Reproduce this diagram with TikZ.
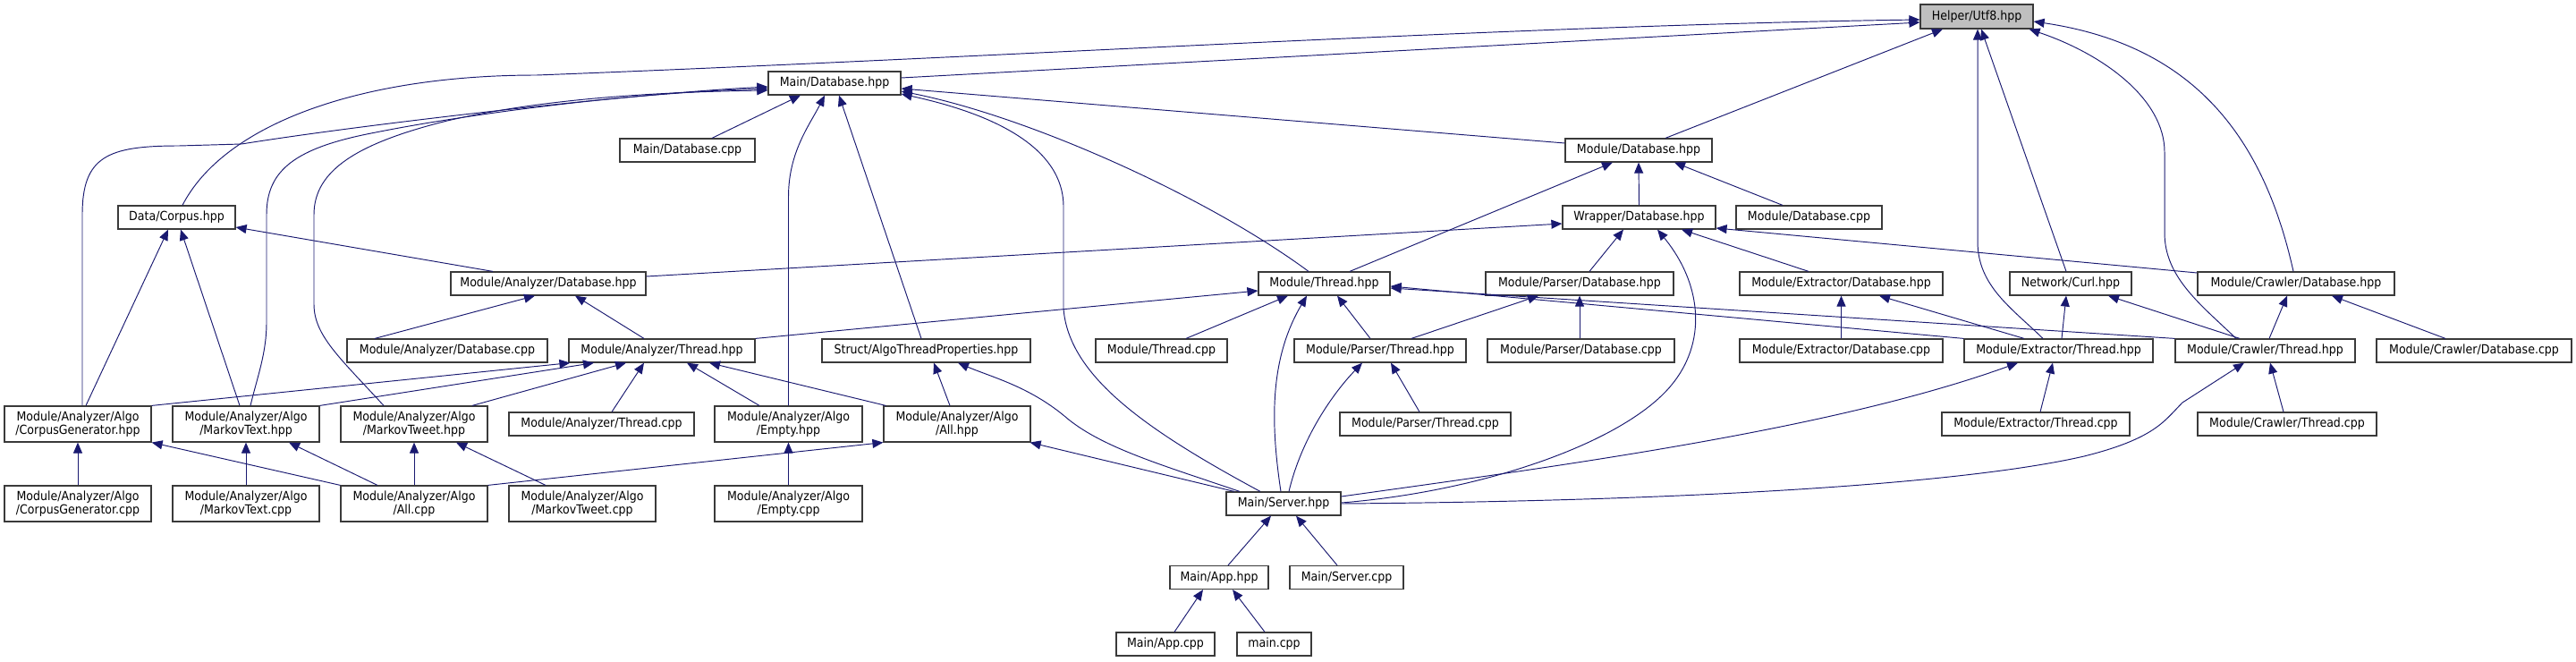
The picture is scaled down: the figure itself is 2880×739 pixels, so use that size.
\documentclass[tikz,border=0pt]{standalone}
\usepackage{fontspec}
\setmainfont{DejaVu Sans}[FakeStretch=0.9]
\usetikzlibrary{arrows.meta}
\definecolor{mblue}{HTML}{191970}
\definecolor{hgrey}{HTML}{BFBFBF}
\definecolor{bord}{HTML}{3A3A3A}
\tikzset{
  box/.style={draw=bord, line width=1.2pt, fill=white, inner sep=0pt, minimum height=26pt,
    font=\fontsize{14}{15}\selectfont, align=center},
  tall/.style={minimum height=40pt},
  dep/.style={draw=mblue, line width=0.95pt, -{Triangle[length=12pt,width=10pt]}, fill=none}
}
\begin{document}
\begin{tikzpicture}[x=1pt,y=-1pt]
\useasboundingbox (0,0) rectangle (2880,739);
% nodes
\node[box,fill=hgrey,minimum width=126pt,minimum height=27pt] (helper) at (2210,18.5) {Helper/Utf8.hpp};
\node[box,minimum width=148pt] (maindb) at (933,93) {Main/Database.hpp};
\node[box,minimum width=131pt] (corpus) at (197.5,243) {Data/Corpus.hpp};
\node[box,minimum width=151pt] (maindbcpp) at (768.5,168) {Main/Database.cpp};
\node[box,minimum width=164pt] (moddb) at (1832,168) {Module/Database.hpp};
\node[box,minimum width=171pt] (wrapdb) at (1832.5,243) {Wrapper/Database.hpp};
\node[box,minimum width=163pt] (moddbcpp) at (2022.5,243) {Module/Database.cpp};
\node[box,minimum width=218pt] (anadb) at (613,317) {Module/Analyzer/Database.hpp};
\node[box,minimum width=147pt] (modthr) at (1480.5,317) {Module/Thread.hpp};
\node[box,minimum width=210pt] (pardb) at (1766,317) {Module/Parser/Database.hpp};
\node[box,minimum width=227pt] (extdb) at (2058.5,317) {Module/Extractor/Database.hpp};
\node[box,minimum width=136pt] (curl) at (2315,317) {Network/Curl.hpp};
\node[box,minimum width=220pt] (crawdb) at (2567,317) {Module/Crawler/Database.hpp};
\node[box,minimum width=224pt] (anadbcpp) at (500,392) {Module/Analyzer/Database.cpp};
\node[box,minimum width=208pt] (anathr) at (740,392) {Module/Analyzer/Thread.hpp};
\node[box,minimum width=233pt] (struct) at (1035.5,392) {Struct/AlgoThreadProperties.hpp};
\node[box,minimum width=147pt] (modthrcpp) at (1298.5,392) {Module/Thread.cpp};
\node[box,minimum width=192pt] (parthr) at (1543,392) {Module/Parser/Thread.hpp};
\node[box,minimum width=209pt] (pardbcpp) at (1767.5,392) {Module/Parser/Database.cpp};
\node[box,minimum width=227pt] (extdbcpp) at (2058.5,392) {Module/Extractor/Database.cpp};
\node[box,minimum width=211pt] (extthr) at (2301.5,392) {Module/Extractor/Thread.hpp};
\node[box,minimum width=201pt] (crawthr) at (2532.5,392) {Module/Crawler/Thread.hpp};
\node[box,minimum width=218pt] (crawdbcpp) at (2766,392) {Module/Crawler/Database.cpp};
\node[box,minimum width=207pt] (anathrcpp) at (672.5,474) {Module/Analyzer/Thread.cpp};
\node[box,minimum width=191pt] (parthrcpp) at (1593.5,474) {Module/Parser/Thread.cpp};
\node[box,minimum width=210pt] (extthrcpp) at (2276,474) {Module/Extractor/Thread.cpp};
\node[box,minimum width=200pt] (crawthrcpp) at (2557,474) {Module/Crawler/Thread.cpp};
\node[box,tall,minimum width=164pt] (cghpp) at (87,474) {Module/Analyzer/Algo\\/CorpusGenerator.hpp};
\node[box,tall,minimum width=164pt] (mtxhpp) at (275,474) {Module/Analyzer/Algo\\/MarkovText.hpp};
\node[box,tall,minimum width=164pt] (mtwhpp) at (463,474) {Module/Analyzer/Algo\\/MarkovTweet.hpp};
\node[box,tall,minimum width=165pt] (emptyhpp) at (881.5,474) {Module/Analyzer/Algo\\/Empty.hpp};
\node[box,tall,minimum width=164pt] (allhpp) at (1070,474) {Module/Analyzer/Algo\\/All.hpp};
\node[box,tall,minimum width=164pt] (cgcpp) at (87,563) {Module/Analyzer/Algo\\/CorpusGenerator.cpp};
\node[box,tall,minimum width=164pt] (mtxcpp) at (275,563) {Module/Analyzer/Algo\\/MarkovText.cpp};
\node[box,tall,minimum width=164pt] (allcpp) at (463,563) {Module/Analyzer/Algo\\/All.cpp};
\node[box,tall,minimum width=164pt] (mtwcpp) at (651,563) {Module/Analyzer/Algo\\/MarkovTweet.cpp};
\node[box,tall,minimum width=165pt] (emptycpp) at (881.5,563) {Module/Analyzer/Algo\\/Empty.cpp};
\node[box,minimum width=128pt] (server) at (1435,563) {Main/Server.hpp};
\node[box,minimum width=110pt] (app) at (1363,645.5) {Main/App.hpp};
\node[box,minimum width=127pt] (servercpp) at (1505.5,645.5) {Main/Server.cpp};
\node[box,minimum width=110pt] (appcpp) at (1303,720) {Main/App.cpp};
\node[box,minimum width=83pt] (maincpp) at (1424.5,720) {main.cpp};
% edges into Helper/Utf8.hpp
\draw[dep] ([xshift=6.5pt]corpus.north) .. controls (250,140) and (400,84) .. (600,84) .. controls (1100,65) and (1700,28) .. ([yshift=-3.5pt]helper.west);
\draw[dep] ([yshift=6pt]maindb.east) -- ([yshift=-6.5pt]helper.west);
\draw[dep] ([xshift=30pt]moddb.north) -- ([xshift=-38pt]helper.south);
\draw[dep] ([xshift=-17.5pt]extthr.north) .. controls (2250,345) and (2211,320) .. (2211,270) -- ([xshift=1pt]helper.south);
\draw[dep] ([xshift=-5pt]curl.north) -- ([xshift=5pt]helper.south);
\draw[dep] ([xshift=-32.5pt]crawthr.north) .. controls (2460,340) and (2420,310) .. (2420,260) -- (2420,170) .. controls (2420,110) and (2350,60) .. ([xshift=-5pt]helper.south east);
\draw[dep] ([xshift=-3pt]crawdb.north) .. controls (2530,150) and (2450,50) .. ([yshift=-5.5pt]helper.east);
% edges into Main/Database.hpp
\draw[dep] ([xshift=5pt]cghpp.north) -- (92,240) .. controls (92,175) and (120,163) .. (200,163) -- (270,161) .. controls (400,140) and (700,105) .. ([yshift=-4pt]maindb.west);
\draw[dep] ([xshift=5pt]mtxhpp.north) .. controls (288,420) and (298,395) .. (298,360) -- (298,240) .. controls (298,190) and (330,165) .. (420,148) .. controls (520,128) and (700,104) .. ([yshift=-6pt]maindb.west);
\draw[dep] ([xshift=-34pt]mtwhpp.north) .. controls (380,400) and (351,375) .. (351,340) -- (351,240) .. controls (351,190) and (400,160) .. (500,135) .. controls (600,112) and (720,103) .. ([yshift=-8pt]maindb.west);
\draw[dep] ([xshift=27.5pt]maindbcpp.north) -- ([xshift=-38pt]maindb.south);
\draw[dep] (emptyhpp.north) -- (881.5,220) .. controls (881.5,170) and (905,140) .. ([xshift=-11pt]maindb.south);
\draw[dep] ([xshift=-5.5pt]struct.north) -- ([xshift=5pt]maindb.south);
\draw[dep] ([xshift=-26pt]server.north) .. controls (1280,480) and (1195,420) .. (1189,345) -- (1189,230) .. controls (1188,160) and (1100,125) .. ([yshift=-12pt]maindb.east);
\draw[dep] ([xshift=-17.5pt]modthr.north) .. controls (1350,220) and (1150,130) .. ([yshift=-9pt]maindb.east);
\draw[dep] ([yshift=8pt]moddb.west) -- ([yshift=-6pt]maindb.east);
% Module/Database.hpp
\draw[dep] (wrapdb.north) -- (moddb.south);
\draw[dep] ([xshift=-29.5pt]moddbcpp.north) -- ([xshift=40pt]moddb.south);
\draw[dep] ([xshift=28.5pt]modthr.north) -- ([xshift=-29pt]moddb.south);
% Wrapper/Database.hpp
\draw[dep] ([yshift=8pt]anadb.east) -- ([yshift=-7pt]wrapdb.west);
\draw[dep] ([xshift=11pt]pardb.north) -- ([xshift=-17.5pt]wrapdb.south);
\draw[dep] ([yshift=1pt]server.east) .. controls (1650,550) and (1800,500) .. (1860,440) .. controls (1910,390) and (1905,320) .. ([xshift=20.5pt]wrapdb.south);
\draw[dep] ([xshift=-36.5pt]extdb.north) -- ([xshift=47.5pt]wrapdb.south);
\draw[dep] ([yshift=12pt]crawdb.west) -- ([yshift=-12pt]wrapdb.east);
% Data/Corpus.hpp
\draw[dep] ([xshift=-62pt]anadb.north) -- ([yshift=-11pt]corpus.east);
\draw[dep] ([xshift=9pt]cghpp.north) -- ([xshift=-9.5pt]corpus.south);
\draw[dep] ([xshift=-7pt]mtxhpp.north) -- ([xshift=4.5pt]corpus.south);
% Module/Analyzer/Database.hpp
\draw[dep] ([xshift=-81pt]anadbcpp.north) -- ([xshift=-15pt]anadb.south);
\draw[dep] ([xshift=-20pt]anathr.north) -- ([xshift=30pt]anadb.south);
% Module/Thread.hpp
\draw[dep] (anathr.north east) -- ([yshift=-8pt]modthr.west);
\draw[dep] ([xshift=27.5pt]modthrcpp.north) -- ([xshift=-40.5pt]modthr.south);
\draw[dep] ([xshift=-3pt]server.north) .. controls (1420,470) and (1420,400) .. ([xshift=-19.5pt]modthr.south);
\draw[dep] ([xshift=-11pt]parthr.north) -- ([xshift=14.5pt]modthr.south);
\draw[dep] (extthr.north west) -- ([yshift=-3pt]modthr.east);
\draw[dep] (crawthr.north west) -- ([yshift=-5pt]modthr.east);
% Module/Analyzer/Thread.hpp
\draw[dep] ([xshift=11.5pt]anathrcpp.north) -- ([xshift=-20pt]anathr.south);
\draw[dep] (cghpp.north east) -- ([xshift=2pt]anathr.south west);
\draw[dep] (mtxhpp.north east) -- ([xshift=-76pt]anathr.south);
\draw[dep] ([xshift=65pt]mtwhpp.north) -- ([xshift=-40pt]anathr.south);
\draw[dep] ([xshift=-32.5pt]emptyhpp.north) -- ([xshift=28pt]anathr.south);
\draw[dep] ([xshift=3pt]allhpp.north west) -- ([xshift=53pt]anathr.south);
% Struct/AlgoThreadProperties.hpp
\draw[dep] ([xshift=-8pt]allhpp.north) -- ([xshift=8.5pt]struct.south);
\draw[dep] ([xshift=-49pt]server.north) .. controls (1300,520) and (1230,500) .. (1190,465) .. controls (1150,432) and (1110,422) .. ([xshift=35.5pt]struct.south);
% All.hpp
\draw[dep] ([xshift=-55pt]server.north) -- ([xshift=-1pt]allhpp.south east);
\draw[dep] (allcpp.north east) -- (allhpp.south west);
% Algo headers
\draw[dep] (allcpp.north west) -- (cghpp.south east);
\draw[dep] ([xshift=-41pt]allcpp.north) -- ([xshift=48pt]mtxhpp.south);
\draw[dep] (allcpp.north) -- (mtwhpp.south);
\draw[dep] ([xshift=-41pt]mtwcpp.north) -- ([xshift=47pt]mtwhpp.south);
\draw[dep] (cgcpp.north) -- (cghpp.south);
\draw[dep] (mtxcpp.north) -- (mtxhpp.south);
\draw[dep] (emptycpp.north) -- (emptyhpp.south);
% Parser
\draw[dep] ([xshift=-6.5pt]parthrcpp.north) -- ([xshift=12pt]parthr.south);
\draw[dep] ([xshift=6pt]server.north) .. controls (1455,490) and (1490,440) .. ([xshift=-20pt]parthr.south);
\draw[dep] ([xshift=35pt]parthr.north) -- ([xshift=-46pt]pardb.south);
\draw[dep] ([xshift=-1.5pt]pardbcpp.north) -- (pardb.south);
% Extractor
\draw[dep] (extdbcpp.north) -- (extdb.south);
\draw[dep] ([xshift=-38.5pt]extthr.north) -- ([xshift=42.5pt]extdb.south);
\draw[dep] ([xshift=3.5pt]extthr.north) -- ([xshift=-5pt]curl.south);
\draw[dep] ([xshift=5pt]extthrcpp.north) -- ([xshift=-6.5pt]extthr.south);
\draw[dep] ([yshift=8pt]server.east) .. controls (1750,520) and (2050,480) .. ([xshift=-45.5pt]extthr.south);
% Crawler
\draw[dep] ([xshift=-28.5pt]crawthr.north) -- ([xshift=42pt]curl.south);
\draw[dep] ([xshift=4.5pt]crawthr.north) -- ([xshift=-10pt]crawdb.south);
\draw[dep] ([xshift=-32pt]crawdbcpp.north) -- ([xshift=40pt]crawdb.south);
\draw[dep] ([xshift=-4pt]crawthrcpp.north) -- ([xshift=5.5pt]crawthr.south);
\draw[dep] (server.east) .. controls (1900,560) and (2200,540) .. (2330,510) .. controls (2410,490) and (2420,470) .. (2440,450) -- ([xshift=-23.5pt]crawthr.south);
% Main
\draw[dep] ([xshift=10pt]app.north) -- ([xshift=-14pt]server.south);
\draw[dep] ([xshift=-10.5pt]servercpp.north) -- ([xshift=14pt]server.south);
\draw[dep] ([xshift=10pt]appcpp.north) -- ([xshift=-18pt]app.south);
\draw[dep] ([xshift=-10.5pt]maincpp.north) -- ([xshift=15pt]app.south);
\end{tikzpicture}
\end{document}
